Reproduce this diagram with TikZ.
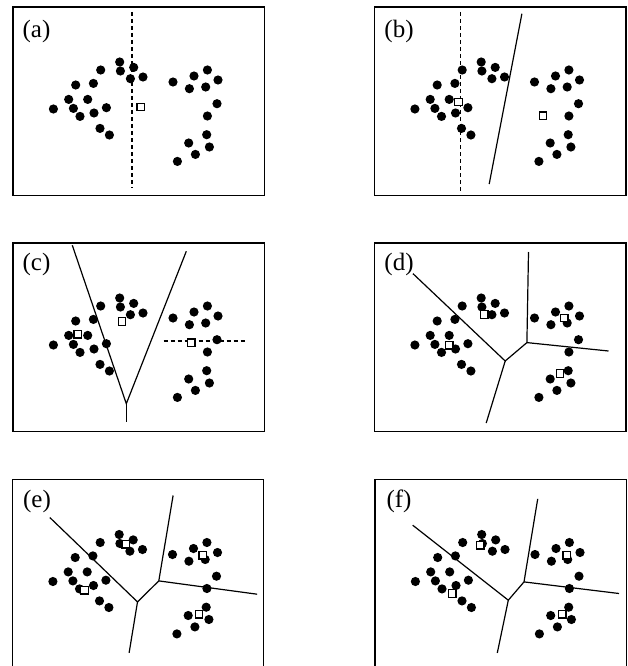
\documentclass[tikz,border=0pt]{standalone}
\usepackage{fontspec}
\setmainfont{Liberation Serif}
\tikzset{
  framebox/.style={line width=1.8pt},
  cut/.style={line width=1.2pt},
  dcut/.style={line width=1.2pt, dash pattern=on 4pt off 3pt},
  sq/.style={draw, fill=white, line width=1.2pt, minimum size=7.5pt, inner sep=0pt},
  lbl/.style={font=\fontsize{25}{25}\selectfont, inner sep=0pt},
  dotfill/.style={fill=black}
}
\newcommand\mydots{%
  \foreach \px/\py in {106.7/55.0, 87.7/63.0, 107.4/64.0, 120.7/60.4, 117.4/71.7, 130.0/70.0,
    62.7/78.0, 80.4/76.4, 55.7/92.4, 74.7/92.4, 40.4/102.0, 60.4/101.4, 67.0/109.4,
    81.0/106.0, 93.4/100.7, 87.0/121.4, 96.4/128.0,
    160.0/75.0, 181.0/69.0, 194.4/63.0, 205.0/73.0, 176.4/81.7, 192.7/80.0, 204.0/96.7,
    194.4/109.0, 193.7/127.7, 175.7/136.0, 196.4/140.0, 182.4/147.4, 164.4/154.4}
  {\fill[dotfill] (\px,\py) circle (4.6pt);}%
}
\begin{document}
\begin{tikzpicture}[x=1pt,y=-1pt]
\useasboundingbox (0,0) rectangle (628,666);
\fill[white] (0,0) rectangle (628,666);

% (a)
\begin{scope}[shift={(13,7)}]
  \draw[framebox] (0,0) rectangle (251.5,188.5);
  \mydots
  \node[lbl] (la) at (23.5,24) {(a)};
  \coordinate (a1) at (119,5);
  \coordinate (a2) at (119,181);
  \draw[dcut] (a1) -- (a2);
  \node[sq] (as1) at (127.7,100) {};
\end{scope}

% (b)
\begin{scope}[shift={(374.5,7)}]
  \draw[framebox] (0,0) rectangle (251.5,188.5);
  \mydots
  \node[lbl] (lb) at (24.5,24.5) {(b)};
  \coordinate (b1) at (85.7,5);
  \coordinate (b2) at (85.7,184);
  \coordinate (b3) at (147.4,6.7);
  \coordinate (b4) at (114.7,177);
  \draw[dcut] (b1) -- (b2);
  \draw[cut] (b3) -- (b4);
  \node[sq] (bs1) at (84,95) {};
  \node[sq] (bs2) at (168.4,108.7) {};
\end{scope}

% (c)
\begin{scope}[shift={(13,243)}]
  \draw[framebox] (0,0) rectangle (251.5,188.5);
  \mydots
  \node[lbl] (lc) at (23.5,21.5) {(c)};
  \coordinate (c1) at (59.3,2.3);
  \coordinate (cj) at (113.3,160.7);
  \coordinate (c2) at (173.3,8.3);
  \coordinate (c3) at (113.3,179);
  \coordinate (c4) at (150.7,98);
  \coordinate (c5) at (232.7,98);
  \draw[cut] (c1) -- (cj) -- (c2);
  \draw[cut] (cj) -- (c3);
  \draw[dcut] (c4) -- (c5);
  \node[sq] (cs1) at (109,78.6) {};
  \node[sq] (cs2) at (64.7,91.3) {};
  \node[sq] (cs3) at (178.3,99.7) {};
\end{scope}

% (d)
\begin{scope}[shift={(374.5,243)}]
  \draw[framebox] (0,0) rectangle (251.5,188.5);
  \mydots
  \node[lbl] (ld) at (24.5,21.5) {(d)};
  \coordinate (dj1) at (130.7,118);
  \coordinate (dj2) at (152.4,99.6);
  \coordinate (d1) at (38.4,30.6);
  \coordinate (d2) at (111.7,180);
  \coordinate (d3) at (154,9);
  \coordinate (d4) at (234,108);
  \draw[cut] (d1) -- (dj1) -- (dj2) -- (d3);
  \draw[cut] (dj1) -- (d2);
  \draw[cut] (dj2) -- (d4);
  \node[sq] (ds1) at (109.7,71.6) {};
  \node[sq] (ds2) at (74.7,102.3) {};
  \node[sq] (ds3) at (189.7,75) {};
  \node[sq] (ds4) at (185.4,130.6) {};
\end{scope}

% (e)
\begin{scope}[shift={(12.5,479.5)}]
  \draw[framebox] (0,0) rectangle (251,188.5);
  \mydots
  \node[lbl] (le) at (24.5,22) {(e)};
  \coordinate (ej1) at (125,122.4);
  \coordinate (ej2) at (146.3,101.4);
  \coordinate (e1) at (37.3,38);
  \coordinate (e2) at (116.6,173.4);
  \coordinate (e3) at (160.6,16);
  \coordinate (e4) at (244.6,114.7);
  \draw[cut] (e1) -- (ej1) -- (ej2) -- (e3);
  \draw[cut] (ej1) -- (e2);
  \draw[cut] (ej2) -- (e4);
  \node[sq] (es1) at (113.3,64.7) {};
  \node[sq] (es2) at (72,110.7) {};
  \node[sq] (es3) at (190.3,75.7) {};
  \node[sq] (es4) at (186.6,134.7) {};
\end{scope}

% (f)
\begin{scope}[shift={(375,479.5)}]
  \draw[framebox] (0,0) rectangle (251.5,188.5);
  \mydots
  \node[lbl] (lf) at (24,22) {(f)};
  \coordinate (fj1) at (133.3,120.7);
  \coordinate (fj2) at (149,102.4);
  \coordinate (f1) at (37.7,45.7);
  \coordinate (f2) at (122.3,173.4);
  \coordinate (f3) at (162.7,19.4);
  \coordinate (f4) at (244,114);
  \draw[cut] (f1) -- (fj1) -- (fj2) -- (f3);
  \draw[cut] (fj1) -- (f2);
  \draw[cut] (fj2) -- (f4);
  \node[sq] (fs1) at (105.3,65.7) {};
  \node[sq] (fs2) at (77.3,114) {};
  \node[sq] (fs3) at (191.7,75.7) {};
  \node[sq] (fs4) at (187.3,134.7) {};
\end{scope}
\end{tikzpicture}
\end{document}
